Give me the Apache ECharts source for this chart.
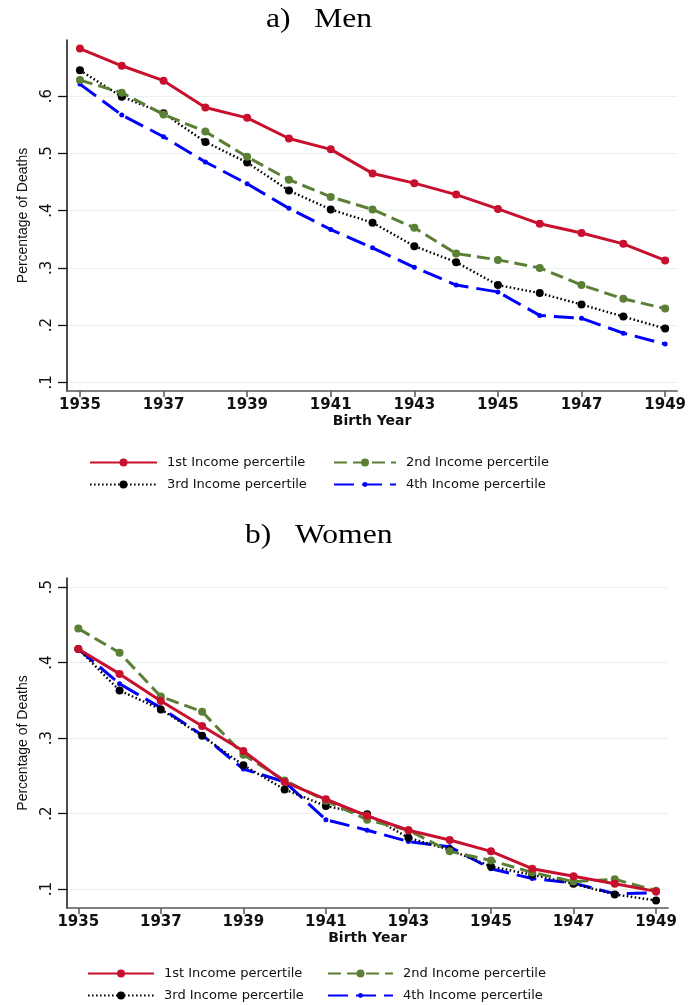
<!DOCTYPE html>
<html>
<head>
<meta charset="utf-8">
<script src="https://cdn.jsdelivr.net/npm/echarts@6/dist/echarts.min.js"></script>
<style>
  html, body { margin: 0; padding: 0; background: #fff; }
  #chart { width: 689px; height: 1005px; }
</style>
</head>
<body>
<div id="chart"></div>
<script>
// Birth cohorts on the x axis
const years = [1935, 1936, 1937, 1938, 1939, 1940, 1941, 1942, 1943, 1944, 1945, 1946, 1947, 1948, 1949];
const yearTicks = [1935, 1937, 1939, 1941, 1943, 1945, 1947, 1949];

const seriesNames = ['1st Income percertile', '2nd Income percertile', '3rd Income percertile', '4th Income percertile'];
const panelTitles = ['a)   Men', 'b)   Women'];

// a) Men — share of deaths by income group
const men1 = [0.683, 0.653, 0.627, 0.580, 0.562, 0.526, 0.507, 0.465, 0.448, 0.428, 0.403, 0.377, 0.361, 0.342, 0.313];
const men2 = [0.628, 0.606, 0.568, 0.538, 0.494, 0.454, 0.424, 0.402, 0.370, 0.325, 0.314, 0.300, 0.270, 0.246, 0.229];
const men3 = [0.645, 0.599, 0.570, 0.520, 0.484, 0.435, 0.402, 0.379, 0.338, 0.310, 0.270, 0.256, 0.236, 0.215, 0.194];
const men4 = [0.621, 0.567, 0.529, 0.485, 0.447, 0.404, 0.367, 0.335, 0.301, 0.270, 0.258, 0.217, 0.212, 0.186, 0.167];
const menTicks = [0.1, 0.2, 0.3, 0.4, 0.5, 0.6];

// b) Women — share of deaths by income group
const women1 = [0.418, 0.385, 0.349, 0.316, 0.283, 0.242, 0.219, 0.197, 0.178, 0.165, 0.150, 0.127, 0.117, 0.107, 0.097];
const women2 = [0.445, 0.413, 0.355, 0.335, 0.278, 0.244, 0.217, 0.192, 0.178, 0.150, 0.138, 0.122, 0.110, 0.113, 0.098];
const women3 = [0.418, 0.363, 0.338, 0.303, 0.264, 0.232, 0.210, 0.199, 0.168, 0.152, 0.130, 0.119, 0.107, 0.093, 0.085];
const women4 = [0.418, 0.372, 0.340, 0.304, 0.259, 0.242, 0.192, 0.178, 0.163, 0.156, 0.127, 0.114, 0.108, 0.094, 0.095];
const womenTicks = [0.1, 0.2, 0.3, 0.4, 0.5];

const styles = [
  { color: '#c8102e', type: 'solid', width: 3, symbolSize: 8, legendH: 10 },
  { color: '#5b7f35', type: [13, 6], width: 3, symbolSize: 8, legendH: 10 },
  { color: '#000000', type: [1.6, 2.4], width: 2.4, symbolSize: 8, legendH: 10 },
  { color: '#0000ff', type: [20, 8], width: 3, symbolSize: 5, legendH: 6 }
];

function pairs(vals) { return years.map((y, i) => [y, vals[i]]); }

function makeSeries(gridIdx, sets) {
  return sets.map((vals, i) => ({
    name: seriesNames[i],
    type: 'line',
    xAxisIndex: gridIdx,
    yAxisIndex: gridIdx,
    data: pairs(vals),
    symbol: 'circle',
    symbolSize: styles[i].symbolSize,
    showAllSymbol: true,
    animation: false,
    itemStyle: { color: styles[i].color },
    lineStyle: { color: styles[i].color, type: styles[i].type, width: styles[i].width },
    z: 10 - i
  }));
}

function xAxis(gridIdx, min, max) {
  return {
    type: 'value', gridIndex: gridIdx, min: min, max: max,
    axisLine: { show: true, lineStyle: { color: '#555', width: 1.5 } },
    axisTick: { show: true, customValues: yearTicks, length: 6, lineStyle: { color: '#555', width: 1.5 } },
    axisLabel: {
      customValues: yearTicks, margin: 7,
      fontFamily: 'DejaVu Sans', fontWeight: 'bold', fontSize: 15, color: '#111',
      formatter: v => String(v)
    },
    splitLine: { show: false },
    name: 'Birth Year', nameLocation: 'middle', nameGap: 23,
    nameTextStyle: { fontFamily: 'DejaVu Sans', fontWeight: 'bold', fontSize: 14, color: '#111' }
  };
}

function yAxis(gridIdx, min, max, ticks) {
  return {
    type: 'value', gridIndex: gridIdx, min: min, max: max,
    axisLine: { show: true, lineStyle: { color: '#111', width: 1.5 } },
    axisTick: { show: true, customValues: ticks, length: 9, lineStyle: { color: '#111', width: 1.3 } },
    axisLabel: {
      customValues: ticks, rotate: 90, margin: 12,
      fontFamily: 'DejaVu Sans', fontSize: 15, color: '#111',
      formatter: v => String(Math.round(v * 10) / 10).replace(/^0/, '')
    },
    splitLine: { show: true, lineStyle: { color: '#e8f1f1', width: 1 } },
    name: 'Percentage of Deaths', nameLocation: 'middle', nameGap: 37, nameRotate: 90,
    nameTextStyle: { fontFamily: 'Liberation Sans', fontSize: 14, color: '#111' }
  };
}

function legendItems(rows, cols, widths) {
  return seriesNames.map((n, i) => {
    const r = Math.floor(i / 2), c = i % 2;
    return {
      data: [n],
      left: cols[c], top: rows[r] - 5,
      orient: 'horizontal', padding: 0,
      itemWidth: widths[c], itemHeight: styles[i].legendH,
      selectedMode: false,
      textStyle: { fontFamily: 'DejaVu Sans', fontSize: 13, color: '#111', padding: [0, 0, 0, 5] }
    };
  });
}

// Panel headings, widened a little to the serif face of the figure
function heading(text, x, y) {
  return {
    type: 'text', x: x, y: y, scaleX: 1.17,
    style: {
      text: text, fill: '#000',
      font: '27px "Liberation Serif"',
      textAlign: 'left', textVerticalAlign: 'middle'
    }
  };
}

const chart = echarts.init(document.getElementById('chart'), null, { renderer: 'canvas' });

chart.setOption({
  backgroundColor: '#ffffff',
  animation: false,
  graphic: [heading(panelTitles[0], 266, 20), heading(panelTitles[1], 245, 536)],
  legend: legendItems([461, 483], [89, 333], [67, 62]).concat(legendItems([972, 994], [87, 327], [66, 65])),
  grid: [
    { left: 67, top: 40, width: 613, height: 351 },
    { left: 67, top: 578, width: 601, height: 330 }
  ],
  xAxis: [xAxis(0, 1934.69, 1949.29), xAxis(1, 1934.726, 1949.29)],
  yAxis: [yAxis(0, 0.085, 0.698, menTicks), yAxis(1, 0.075, 0.512, womenTicks)],
  series: makeSeries(0, [men1, men2, men3, men4]).concat(makeSeries(1, [women1, women2, women3, women4]))
});
</script>
</body>
</html>
